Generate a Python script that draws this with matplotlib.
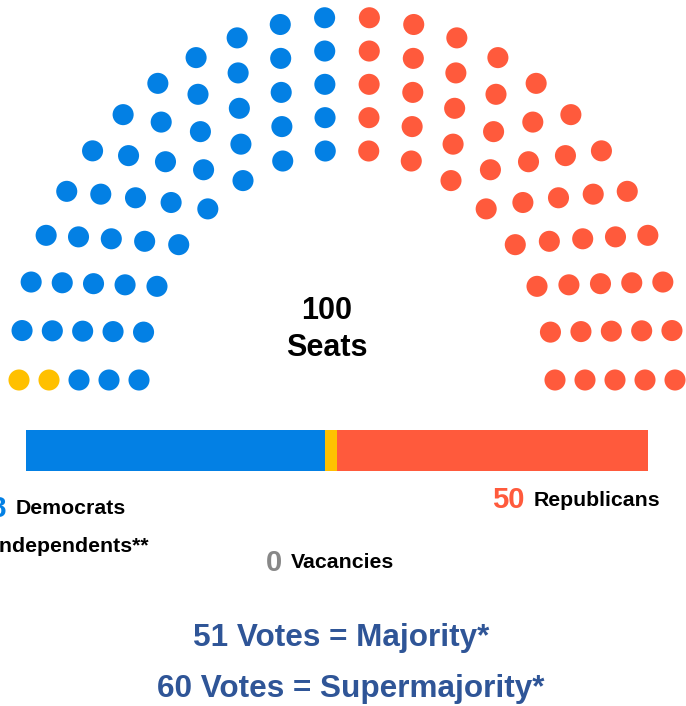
import numpy as np
import matplotlib
matplotlib.use("Agg")
import matplotlib.pyplot as plt

# Senate composition
parties = ["Independents", "Democrats", "Republicans"]
seats = [2, 48, 50]
party_colors = ["#ffc000", "#0380e4", "#ff5a3c"]

# hemicycle rows, outer to inner (seats per row)
row_seats = [24, 22, 20, 18, 16]

total_seats = sum(seats)
vacancies = 0

plt.rcParams['font.family'] = ['Liberation Sans', 'DejaVu Sans']

fig = plt.figure(figsize=(6.86, 7.06), dpi=100)
ax = fig.add_axes([0, 0, 1, 1])
ax.set_xlim(0, 686)
ax.set_ylim(706, 0)
ax.axis('off')

# layout of the hemicycle
cx, cy = 347, 380
r_outer, r_step = 328, 30
stretch = 1.107

pts = []
for i, n in enumerate(row_seats):
    r = r_outer - i * r_step
    for k in range(n):
        th = np.pi - k * np.pi / (n - 1)
        pts.append((th, r))
# order seats left to right, outer rows first at equal angle
pts.sort(key=lambda p: (-round(p[0], 6), -p[1]))

seat_colors = []
for c, n in zip(party_colors, seats):
    seat_colors += [c] * n

xs = [cx + r * np.cos(th) for th, r in pts]
ys = [cy - r * stretch * np.sin(th) for th, r in pts]
ax.scatter(xs, ys, s=230, c=seat_colors, linewidths=0, zorder=3)

ax.text(327, 311, str(total_seats), ha='center', va='center', fontsize=22, fontweight='bold')
ax.text(327, 348, "Seats", ha='center', va='center', fontsize=22, fontweight='bold')

# stacked bar
bar_order = [1, 0, 2]
left = 26
px_per_seat = 6.22
for j in bar_order:
    ax.barh(450.5, seats[j] * px_per_seat, left=left, height=41, color=party_colors[j], linewidth=0)
    left += seats[j] * px_per_seat

# legend labels
def label(x, y, num, text, color):
    ax.text(x - 9, y, str(num), ha='right', va='center', fontsize=21, fontweight='bold', color=color)
    ax.text(x, y, text, ha='left', va='center', fontsize=15.3, fontweight='bold', color='black')

label(16, 509, seats[1], "Democrats", party_colors[1])
label(-6, 546, seats[0], "Independents**", party_colors[0])
label(291, 563, vacancies, "Vacancies", "#888888")
label(534, 500, seats[2], "Republicans", party_colors[2])

ax.text(341, 638, "51 Votes = Majority*", ha='center', va='center', fontsize=22.7,
        fontweight='bold', color='#2f5597')
ax.text(351, 689, "60 Votes = Supermajority*", ha='center', va='center', fontsize=22.7,
        fontweight='bold', color='#2f5597')

fig.savefig("out.png", dpi=100)
